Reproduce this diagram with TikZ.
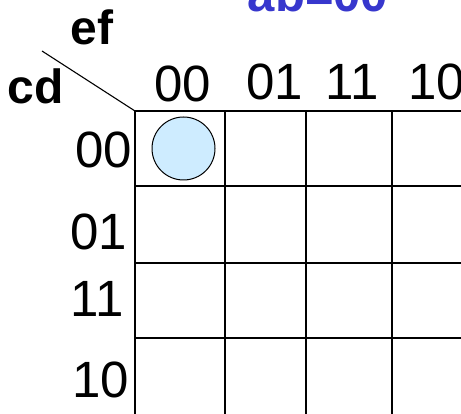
\documentclass[tikz,border=0pt]{standalone}
\usepackage{fontspec}
\setmainfont{Liberation Sans}
\definecolor{titleblue}{RGB}{55,55,205}
\definecolor{cellblue}{RGB}{206,236,255}
\tikzset{
  digit/.style={inner sep=0pt, anchor=base, font=\fontsize{51}{60}\selectfont},
  varlabel/.style={inner sep=0pt, anchor=base, font=\fontsize{48}{56}\selectfont\bfseries},
  gridline/.style={draw=black, line width=1.3pt},
  mark1/.style={circle, draw=black, line width=1pt, fill=cellblue, minimum size=63pt, inner sep=0pt}
}
\begin{document}
\begin{tikzpicture}[x=1pt, y=-1pt]
\useasboundingbox (0,0) rectangle (461,414);
\clip (0,0) rectangle (461,414);
% title
\node[varlabel, text=titleblue, font=\fontsize{49}{56}\selectfont\bfseries] (title) at (318,12) {ab=00};
% variable labels
\node[varlabel] (ef) at (92,45) {ef};
\node[varlabel] (cd) at (36,104) {cd};
% corner and diagonal
\coordinate (corner) at (135,111);
\coordinate (diagstart) at (42,51);
\draw[line width=1.1pt] (diagstart) -- (corner);
% grid
\foreach \x in {135,225,306,392} \draw[gridline] (\x,111) -- (\x,430);
\foreach \y in {111,186,263,338} \draw[gridline] (135,\y) -- (480,\y);
% column labels
\node[digit] (c00) at (183,102) {00};
\node[digit] (c01) at (275,100) {01};
\node[digit] (c11) at (352,100) {11};
\node[digit] (c10) at (437,100) {10};
% row labels
\node[digit] (r00) at (104,168) {00};
\node[digit] (r01) at (99,250) {01};
\node[digit] (r11) at (97,317) {11};
\node[digit] (r10) at (101,397) {10};
% marked cell
\node[mark1] (m00) at (183.5,148.5) {};
\end{tikzpicture}
\end{document}
